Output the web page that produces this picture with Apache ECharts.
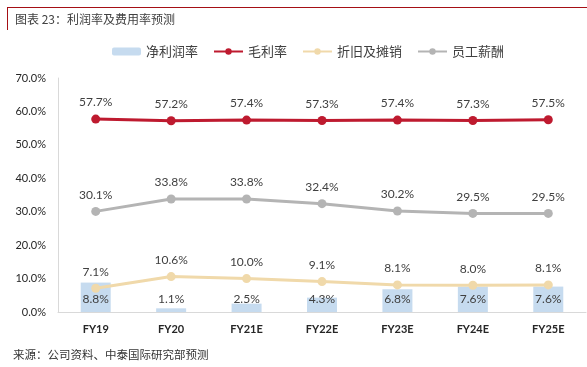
<!DOCTYPE html>
<html><head><meta charset="utf-8">
<script src="https://cdn.jsdelivr.net/npm/echarts@6/dist/echarts.min.js"></script>
<style>html,body{margin:0;padding:0;background:#fff}#c{width:587px;height:367px}</style>
</head><body><div id="c"></div>
<script>
var categories = ['FY19','FY20','FY21E','FY22E','FY23E','FY24E','FY25E'];
var netMargin = [8.8,1.1,2.5,4.3,6.8,7.6,7.6];
var grossMargin = [57.7,57.2,57.4,57.3,57.4,57.3,57.5];
var depreciation = [7.1,10.6,10.0,9.1,8.1,8.0,8.1];
var staffCost = [30.1,33.8,33.8,32.4,30.2,29.5,29.5];
var yTicks = [0,10,20,30,40,50,60,70];

var cjk = '"Noto Sans CJK SC", sans-serif';
var num = 'Lato, "Noto Sans CJK SC", sans-serif';
var pct = function(p){ return p.value.toFixed(1) + '%'; };
var lbl = {show:true, position:'top', distance:6, formatter:pct, color:'#404040', fontFamily:num, fontSize:12};

var chart = echarts.init(document.getElementById('c'));
chart.setOption({
  animation:false,
  textStyle:{fontFamily:cjk},
  grid:{left:58, right:1, top:78, bottom:55},
  legend:{
    top:40, left:107, itemWidth:29, itemHeight:8, itemGap:15,
    textStyle:{fontFamily:cjk, fontSize:13, color:'#404040'},
    data:['净利润率','毛利率','折旧及摊销','员工薪酬']
  },
  xAxis:{
    type:'category', data:categories,
    axisLine:{lineStyle:{color:'#d9d9d9'}}, axisTick:{show:false},
    axisLabel:{color:'#262626', fontWeight:'bold', fontFamily:num, fontSize:11, margin:12}
  },
  yAxis:{
    type:'value', min:yTicks[0], max:yTicks[yTicks.length-1], interval:10,
    axisLine:{show:true, lineStyle:{color:'#d9d9d9'}}, axisTick:{show:false},
    splitLine:{show:false},
    axisLabel:{formatter:function(v){return v.toFixed(1)+'%';}, color:'#262626', fontFamily:num, fontSize:11, margin:12}
  },
  series:[
    {name:'净利润率', type:'bar', data:netMargin, barWidth:30, itemStyle:{color:'#c6dbef'},
     label:{show:true, position:'insideBottom', distance:7, formatter:pct, color:'#404040', fontFamily:num, fontSize:12}, z:1},
    {name:'毛利率', type:'line', data:grossMargin, color:'#be1a2f', lineStyle:{width:3}, symbol:'circle', symbolSize:9, label:lbl, z:3},
    {name:'折旧及摊销', type:'line', data:depreciation, color:'#f0d9aa', lineStyle:{width:3}, symbol:'circle', symbolSize:9, label:lbl, z:3},
    {name:'员工薪酬', type:'line', data:staffCost, color:'#b4b4b4', lineStyle:{width:3}, symbol:'circle', symbolSize:9, label:lbl, z:3}
  ],
  graphic:[
    {type:'line', shape:{x1:7, y1:7.5, x2:587, y2:7.5}, style:{stroke:'#a50f15', lineWidth:1}},
    {type:'line', shape:{x1:7.5, y1:7, x2:7.5, y2:30}, style:{stroke:'#a50f15', lineWidth:1}},
    {type:'text', left:15, top:13, style:{text:'图表 23：利润率及费用率预测', fill:'#404040', font:'12px "Noto Sans CJK SC", sans-serif'}},
    {type:'text', left:13, top:349, style:{text:'来源：公司资料、中泰国际研究部预测', fill:'#333333', font:'11.5px "Noto Sans CJK SC", sans-serif'}}
  ]
});
</script></body></html>
